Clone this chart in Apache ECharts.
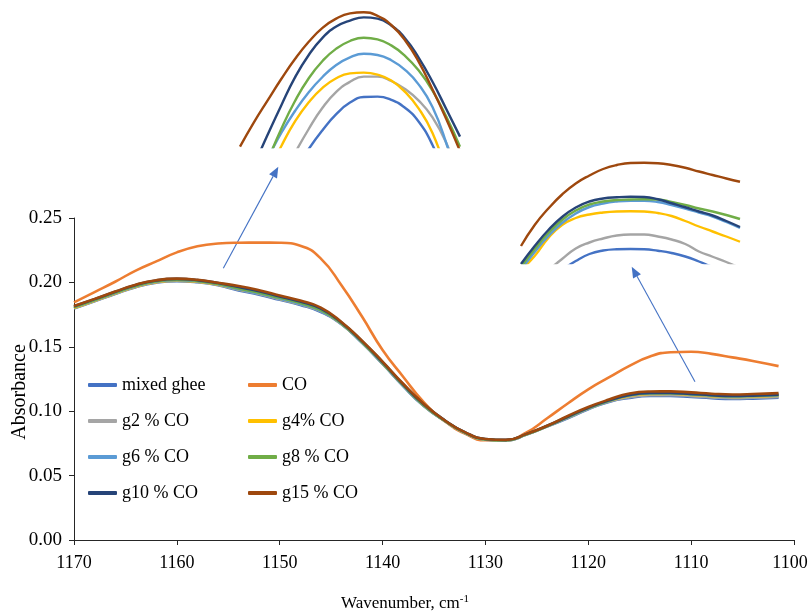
<!DOCTYPE html>
<html>
<head>
<meta charset="utf-8">
<script src="https://cdn.jsdelivr.net/npm/echarts@6/dist/echarts.min.js"></script>
<style>
  html, body { margin: 0; padding: 0; background: #ffffff; }
  #chart { width: 810px; height: 615px; }
</style>
</head>
<body>
<div id="chart"></div>
<script>
// FTIR absorbance spectra, 1170–1100 cm-1
const wavenumbers = [1170, 1168, 1166, 1164, 1162, 1160, 1158, 1156, 1154, 1152, 1150, 1148, 1146, 1144, 1142, 1140, 1138, 1136, 1134, 1132, 1130, 1128, 1126, 1124, 1122, 1120, 1118, 1116, 1114, 1112, 1110, 1108, 1106, 1104, 1101.5];

const mixedGhee = [0.1798, 0.1853, 0.1910, 0.1963, 0.1998, 0.2010, 0.2001, 0.1978, 0.1938, 0.1905, 0.1865, 0.1825, 0.1770, 0.1675, 0.1530, 0.1367, 0.1195, 0.1040, 0.0926, 0.0831, 0.0778, 0.0771, 0.0818, 0.0881, 0.0945, 0.1015, 0.1072, 0.1103, 0.1118, 0.1119, 0.1111, 0.1101, 0.1095, 0.1098, 0.1105];
const co        = [0.1845, 0.1925, 0.2005, 0.2092, 0.2163, 0.2233, 0.2280, 0.2302, 0.2308, 0.2309, 0.2308, 0.2285, 0.2185, 0.1978, 0.1735, 0.1475, 0.1268, 0.1070, 0.0925, 0.0826, 0.0774, 0.0775, 0.0835, 0.0945, 0.1060, 0.1170, 0.1262, 0.1352, 0.1425, 0.1458, 0.1462, 0.1445, 0.1418, 0.1390, 0.1350];
const g2        = [0.1801, 0.1856, 0.1913, 0.1966, 0.2001, 0.2013, 0.2004, 0.1981, 0.1943, 0.1910, 0.1870, 0.1830, 0.1775, 0.1677, 0.1532, 0.1369, 0.1197, 0.1042, 0.0927, 0.0832, 0.0779, 0.0772, 0.0819, 0.0882, 0.0948, 0.1018, 0.1075, 0.1109, 0.1124, 0.1125, 0.1117, 0.1107, 0.1101, 0.1104, 0.1111];
const g4        = [0.1802, 0.1857, 0.1914, 0.1967, 0.2002, 0.2014, 0.2005, 0.1982, 0.1947, 0.1914, 0.1874, 0.1834, 0.1779, 0.1680, 0.1535, 0.1372, 0.1200, 0.1045, 0.0928, 0.0833, 0.0780, 0.0773, 0.0820, 0.0883, 0.0952, 0.1022, 0.1079, 0.1119, 0.1134, 0.1135, 0.1127, 0.1117, 0.1111, 0.1114, 0.1121];
const g6        = [0.1806, 0.1861, 0.1918, 0.1971, 0.2006, 0.2018, 0.2009, 0.1986, 0.1946, 0.1913, 0.1873, 0.1833, 0.1778, 0.1679, 0.1534, 0.1371, 0.1199, 0.1044, 0.0928, 0.0833, 0.0780, 0.0773, 0.0820, 0.0883, 0.0952, 0.1022, 0.1079, 0.1123, 0.1138, 0.1139, 0.1131, 0.1121, 0.1115, 0.1118, 0.1125];
const g8        = [0.1809, 0.1864, 0.1921, 0.1974, 0.2009, 0.2021, 0.2012, 0.1989, 0.1953, 0.1920, 0.1880, 0.1840, 0.1785, 0.1682, 0.1537, 0.1374, 0.1202, 0.1047, 0.0929, 0.0834, 0.0781, 0.0774, 0.0821, 0.0884, 0.0954, 0.1024, 0.1081, 0.1124, 0.1139, 0.1140, 0.1132, 0.1122, 0.1116, 0.1119, 0.1126];
const g10       = [0.1815, 0.1870, 0.1927, 0.1980, 0.2015, 0.2027, 0.2018, 0.1995, 0.1964, 0.1931, 0.1891, 0.1851, 0.1796, 0.1689, 0.1544, 0.1381, 0.1209, 0.1054, 0.0932, 0.0837, 0.0784, 0.0777, 0.0824, 0.0887, 0.0957, 0.1027, 0.1084, 0.1126, 0.1141, 0.1142, 0.1134, 0.1124, 0.1118, 0.1121, 0.1128];
const g15       = [0.1817, 0.1872, 0.1929, 0.1982, 0.2017, 0.2029, 0.2020, 0.1997, 0.1972, 0.1939, 0.1899, 0.1859, 0.1804, 0.1693, 0.1548, 0.1385, 0.1213, 0.1058, 0.0932, 0.0837, 0.0784, 0.0777, 0.0824, 0.0887, 0.0963, 0.1033, 0.1090, 0.1138, 0.1153, 0.1154, 0.1146, 0.1136, 0.1130, 0.1133, 0.1140];

// Magnified view of the band maximum near 1160 cm-1
const peakWn = [1164, 1163.5, 1163, 1162.5, 1162, 1161.5, 1161, 1160.5, 1160, 1159.5, 1159, 1158.5, 1158, 1157.5, 1157, 1156.5, 1156];
const peakMixedGhee = [0.19540, 0.19650, 0.19745, 0.19825, 0.19890, 0.19945, 0.19992, 0.20032, 0.20061, 0.20075, 0.20076, 0.20068, 0.20048, 0.20013, 0.19955, 0.19870, 0.19765];
const peakG2  = [0.19568, 0.19693, 0.19793, 0.19868, 0.19935, 0.19995, 0.20048, 0.20088, 0.20113, 0.20126, 0.20126, 0.20115, 0.20095, 0.20066, 0.20024, 0.19960, 0.19870];
const peakG4  = [0.19700, 0.19800, 0.19882, 0.19952, 0.20014, 0.20062, 0.20098, 0.20122, 0.20134, 0.20136, 0.20131, 0.20116, 0.20088, 0.20046, 0.19985, 0.19890, 0.19775];
const peakG6  = [0.19755, 0.19845, 0.19920, 0.19985, 0.20040, 0.20087, 0.20125, 0.20155, 0.20174, 0.20183, 0.20180, 0.20167, 0.20143, 0.20106, 0.20050, 0.19960, 0.19845];
const peakG8  = [0.19740, 0.19830, 0.19915, 0.19995, 0.20065, 0.20122, 0.20165, 0.20196, 0.20215, 0.20223, 0.20219, 0.20204, 0.20178, 0.20141, 0.20091, 0.20026, 0.19951];
const peakG10 = [0.19828, 0.19903, 0.19980, 0.20054, 0.20124, 0.20180, 0.20223, 0.20251, 0.20266, 0.20274, 0.20271, 0.20254, 0.20222, 0.20173, 0.20113, 0.20045, 0.19976];
const peakG15 = [0.19951, 0.20011, 0.20066, 0.20120, 0.20170, 0.20213, 0.20248, 0.20271, 0.20284, 0.20287, 0.20278, 0.20255, 0.20217, 0.20163, 0.20094, 0.20020, 0.19940];

// Magnified view of the shoulder near 1111 cm-1
const shoulderWn = [1120, 1119, 1118, 1117, 1116, 1115, 1114, 1113, 1112, 1111, 1110, 1109, 1108, 1107, 1106, 1105, 1104];
const shoulderMixedGhee = [0.11032, 0.11072, 0.11112, 0.11152, 0.11188, 0.11216, 0.11230, 0.11235, 0.11236, 0.11235, 0.11229, 0.11220, 0.11206, 0.11186, 0.11164, 0.11144, 0.11124];
const shoulderG2  = [0.11072, 0.11112, 0.11152, 0.11196, 0.11238, 0.11262, 0.11278, 0.11290, 0.11294, 0.11294, 0.11286, 0.11274, 0.11256, 0.11226, 0.11205, 0.11184, 0.11160];
const shoulderG4  = [0.11152, 0.11208, 0.11280, 0.11332, 0.11360, 0.11374, 0.11382, 0.11386, 0.11387, 0.11386, 0.11380, 0.11368, 0.11348, 0.11326, 0.11306, 0.11286, 0.11265];
const shoulderG6  = [0.11152, 0.11224, 0.11288, 0.11340, 0.11378, 0.11404, 0.11418, 0.11426, 0.11429, 0.11429, 0.11424, 0.11412, 0.11398, 0.11382, 0.11366, 0.11344, 0.11320];
const shoulderG8  = [0.11164, 0.11236, 0.11300, 0.11352, 0.11390, 0.11414, 0.11426, 0.11432, 0.11434, 0.11435, 0.11434, 0.11424, 0.11412, 0.11398, 0.11386, 0.11372, 0.11356];
const shoulderG10 = [0.11176, 0.11248, 0.11312, 0.11364, 0.11402, 0.11426, 0.11438, 0.11443, 0.11445, 0.11444, 0.11435, 0.11419, 0.11403, 0.11386, 0.11370, 0.11348, 0.11324];
const shoulderG15 = [0.11248, 0.11332, 0.11398, 0.11454, 0.11498, 0.11530, 0.11556, 0.11572, 0.11580, 0.11581, 0.11579, 0.11572, 0.11561, 0.11546, 0.11532, 0.11518, 0.11505];

const yTicks = [0, 0.05, 0.10, 0.15, 0.20, 0.25];

const seriesNames = ['mixed ghee', 'CO', 'g2 % CO', 'g4% CO', 'g6 % CO', 'g8 % CO', 'g10 % CO', 'g15 % CO'];
const seriesColors = ['#4472C4', '#ED7D31', '#A5A5A5', '#FFC000', '#5B9BD5', '#70AD47', '#264478', '#9E480E'];
const mainValues = [mixedGhee, co, g2, g4, g6, g8, g10, g15];

// inset curves, keyed by series name (no CO curve in the magnified views)
const peakValues = { 'mixed ghee': peakMixedGhee, 'g2 % CO': peakG2, 'g4% CO': peakG4, 'g6 % CO': peakG6, 'g8 % CO': peakG8, 'g10 % CO': peakG10, 'g15 % CO': peakG15 };
const shoulderValues = { 'mixed ghee': shoulderMixedGhee, 'g2 % CO': shoulderG2, 'g4% CO': shoulderG4, 'g6 % CO': shoulderG6, 'g8 % CO': shoulderG8, 'g10 % CO': shoulderG10, 'g15 % CO': shoulderG15 };

const FONT = '"Liberation Serif", "Times New Roman", serif';
const AXIS_COLOR = '#262626';

function pairs(xs, ys) { return xs.map((x, i) => [x, ys[i]]); }

function lineSeries(name, color, xi, data, width) {
  return {
    name, type: 'line', xAxisIndex: xi, yAxisIndex: xi, data,
    smooth: 0.5, showSymbol: false, symbol: 'none', clip: true,
    lineStyle: { color, width }, itemStyle: { color },
    emphasis: { disabled: true }
  };
}

const series = [];
seriesNames.forEach((name, i) => {
  series.push(lineSeries(name, seriesColors[i], 0, pairs(wavenumbers, mainValues[i]), 2.6));
});
seriesNames.forEach((name, i) => {
  if (peakValues[name]) series.push(lineSeries(name, seriesColors[i], 1, pairs(peakWn, peakValues[name]), 2.4));
});
seriesNames.forEach((name, i) => {
  if (shoulderValues[name]) series.push(lineSeries(name, seriesColors[i], 2, pairs(shoulderWn, shoulderValues[name]), 2.4));
});

// pointer arrows from the curves to the magnified views
function arrow(tail, tip) {
  const dx = tip[0] - tail[0], dy = tip[1] - tail[1];
  const len = Math.hypot(dx, dy);
  const ux = dx / len, uy = dy / len;
  const headLen = 11, headHalf = 4.5;
  const bx = tip[0] - ux * headLen, by = tip[1] - uy * headLen;
  const nx = -uy, ny = ux;
  return [
    { type: 'line', shape: { x1: tail[0], y1: tail[1], x2: bx, y2: by }, style: { stroke: '#4472C4', lineWidth: 1.1 }, silent: true },
    { type: 'polygon', shape: { points: [[tip[0], tip[1]], [bx + nx * headHalf, by + ny * headHalf], [bx - nx * headHalf, by - ny * headHalf]] }, style: { fill: '#4472C4' }, silent: true }
  ];
}

const legendText = { fontFamily: FONT, fontSize: 18, color: '#000', lineHeight: 20 };
const legendBase = {
  orient: 'vertical', top: 375, itemWidth: 29, itemHeight: 4, itemGap: 16,
  icon: 'roundRect', selectedMode: false, textStyle: legendText, padding: 0
};

const hiddenAxis = { show: false, axisLine: { show: false }, axisTick: { show: false }, axisLabel: { show: false }, splitLine: { show: false } };

const option = {
  backgroundColor: '#ffffff',
  animation: false,
  grid: [
    { left: 74, right: 16, top: 218, bottom: 75, containLabel: false, outerBoundsMode: 'none' },
    { left: 240, top: 7, width: 220, height: 140, containLabel: false, outerBoundsMode: 'none' },
    { left: 521, top: 158, width: 219, height: 105, containLabel: false, outerBoundsMode: 'none' }
  ],
  xAxis: [
    {
      type: 'value', gridIndex: 0, min: 1100, max: 1170, interval: 10, inverse: true,
      name: 'Wavenumber, cm{sup|-1}', nameLocation: 'middle', nameGap: 54, nameMoveOverlap: false,
      nameTextStyle: {
        fontFamily: FONT, fontSize: 17, color: '#000', padding: [0, 58, 0, 0],
        rich: { sup: { fontFamily: FONT, fontSize: 11, color: '#000', padding: [0, 0, 9, 0] } }
      },
      axisLine: { show: true, lineStyle: { color: AXIS_COLOR, width: 1 } },
      axisTick: { show: true, length: 5, lineStyle: { color: AXIS_COLOR } },
      axisLabel: {
        fontFamily: FONT, fontSize: 18, color: '#000', margin: 14,
        // keep the last label inside the canvas edge
        formatter: v => (v === 1100 ? '{edge|' + v + '}' : String(v)),
        rich: { edge: { fontFamily: FONT, fontSize: 18, color: '#000', padding: [0, 8, 0, 0] } }
      },
      splitLine: { show: false }
    },
    Object.assign({ type: 'value', gridIndex: 1, min: 1156, max: 1164, inverse: true }, hiddenAxis),
    Object.assign({ type: 'value', gridIndex: 2, min: 1104, max: 1120, inverse: true }, hiddenAxis)
  ],
  yAxis: [
    {
      type: 'value', gridIndex: 0, min: yTicks[0], max: yTicks[yTicks.length - 1], interval: 0.05,
      name: 'Absorbance', nameLocation: 'middle', nameGap: 44, nameMoveOverlap: false,
      nameTextStyle: { fontFamily: FONT, fontSize: 20, color: '#000', padding: [0, 0, 0, -26] },
      axisLine: { show: true, lineStyle: { color: AXIS_COLOR, width: 1 } },
      axisTick: { show: true, length: 5, lineStyle: { color: AXIS_COLOR } },
      axisLabel: { fontFamily: FONT, fontSize: 19, color: '#000', margin: 12, formatter: v => v.toFixed(2) },
      splitLine: { show: false }
    },
    Object.assign({ type: 'value', gridIndex: 1, min: 0.1995, max: 0.2030 }, hiddenAxis),
    Object.assign({ type: 'value', gridIndex: 2, min: 0.1118, max: 0.1160 }, hiddenAxis)
  ],
  legend: [
    Object.assign({ left: 88, data: ['mixed ghee', 'g2 % CO', 'g6 % CO', 'g10 % CO'] }, legendBase),
    Object.assign({ left: 248, data: ['CO', 'g4% CO', 'g8 % CO', 'g15 % CO'] }, legendBase)
  ],
  graphic: [].concat(arrow([223.3, 268.3], [278.3, 166.7]), arrow([695, 381.7], [631.7, 266.7])),
  series
};

const chart = echarts.init(document.getElementById('chart'), null, { renderer: 'canvas' });
chart.setOption(option);
</script>
</body>
</html>
